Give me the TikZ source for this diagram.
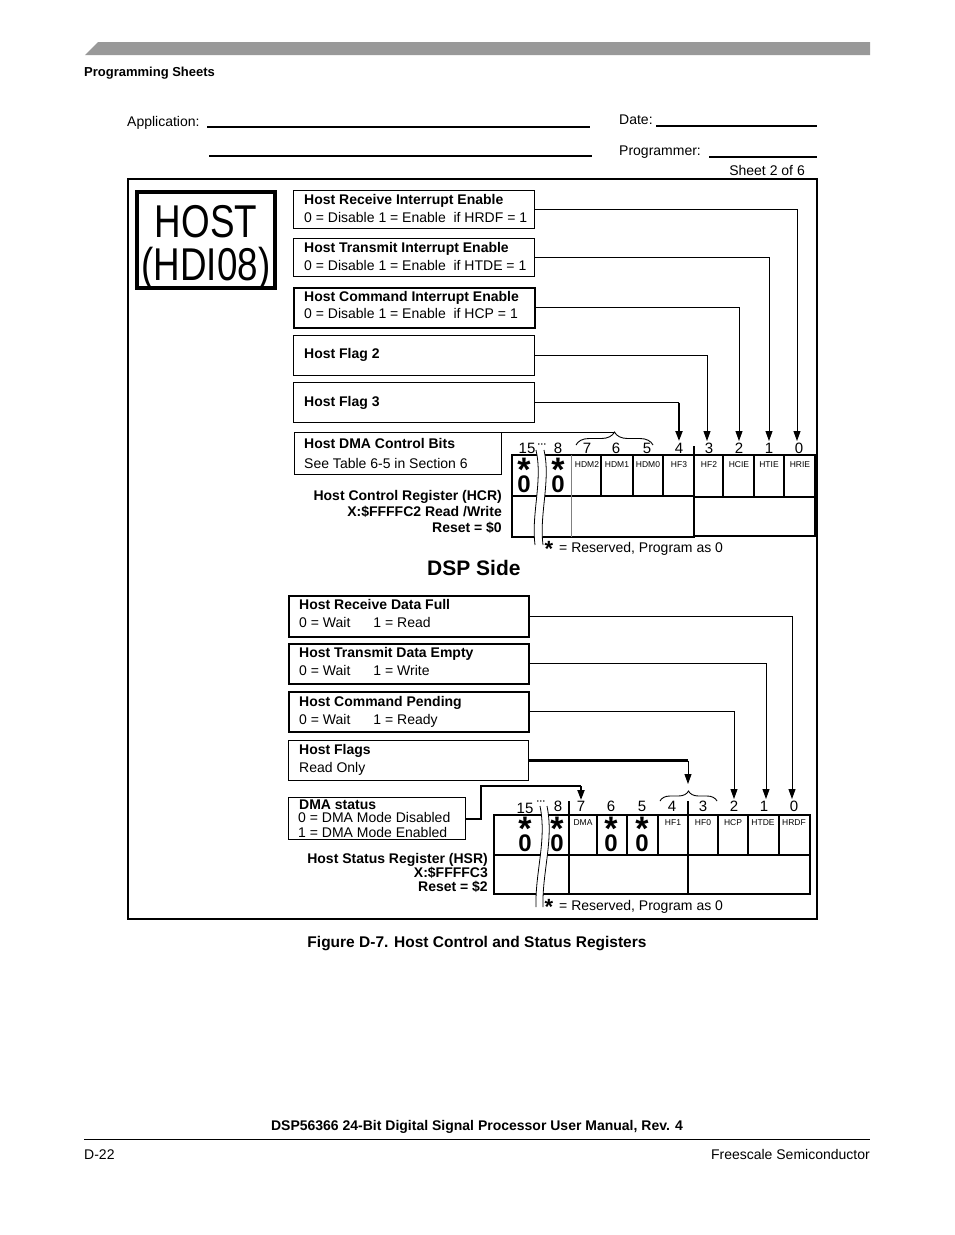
\documentclass[tikz,border=0pt]{standalone}
\usepackage{fontspec}
\setmainfont{Liberation Sans}
\usetikzlibrary{arrows.meta,decorations.pathreplacing}
\newcommand{\fsz}[1]{\fontsize{#1}{#1}\selectfont}
\newcommand{\resv}{\makebox[14pt]{\fsz{24}0}\llap{\makebox[14pt]{\raisebox{11pt}{\fsz{34}*}}}}
\begin{document}
\begin{tikzpicture}[x=1pt,y=-1pt,
  txt/.style={inner sep=0pt, anchor=base west, font=\fsz{14}},
  btxt/.style={inner sep=0pt, anchor=base west, font=\fsz{14}\bfseries},
  rtxt/.style={inner sep=0pt, anchor=base east, font=\fsz{14}\bfseries},
  box/.style={draw, line width=1.1pt, anchor=north west, inner sep=0pt},
  sbox/.style={draw, line width=1.5pt, anchor=north west, inner sep=0pt},
  arr/.style={line width=0.9pt, -{Triangle[length=10pt,width=7pt]}},
  conn/.style={line width=0.9pt},
  reg/.style={line width=1.1pt},
  bitnum/.style={inner sep=0pt, anchor=base, font=\fsz{15}},
  cell/.style={inner sep=0pt, anchor=center, font=\fsz{8.5}},
  rz/.style={inner sep=0pt, anchor=base, font=\bfseries},
  dots/.style={inner sep=0pt, anchor=center, font=\fsz{9}\bfseries},
  brk/.style={line width=0.8pt},
  brc/.style={line width=0.9pt, decorate, decoration={brace, amplitude=13pt, aspect=0.5}}
]
\useasboundingbox (0,0) rectangle (954,1235);
\fill[white] (0,0) rectangle (954,1235);

% ---------- page header ----------
\fill[black!40] (85,55) -- (98,42) -- (870,42) -- (870,55) -- cycle;
\node[inner sep=0pt, anchor=base west, font=\fsz{13}\bfseries] (ps) at (84,76) {Programming Sheets};

\node[txt] (app) at (127,126) {Application:};
\draw[line width=1.5pt] (207,127) -- (590,127);
\draw[line width=1.5pt] (209,156) -- (592,156);
\node[txt] (date) at (619,124) {Date:};
\draw[line width=1.2pt] (656,126) -- (817,126);
\node[txt] (prog) at (619,155) {Programmer:};
\draw[line width=1.2pt] (709,157) -- (817,157);
\node[inner sep=0pt, anchor=base east, font=\fsz{14}] (sheet) at (805,175) {Sheet 2 of 6};

% ---------- frame ----------
\draw[line width=1.5pt] (128,179) rectangle (817,919);

% HOST box
\draw[line width=4pt] (137,192) rectangle (275,288);
\node[inner sep=0pt, anchor=base, font=\fsz{46}] (host1) at (206,237) {\scalebox{0.8}[1]{HOST}};
\node[inner sep=0pt, anchor=base, font=\fsz{46}] (host2) at (206,280) {\scalebox{0.8}[1]{(HDI08)}};

% ---------- HCR description boxes ----------
\node[box, minimum width=241pt, minimum height=38pt] (b1) at (293,190) {};
\node[btxt] (b1t) at (304,204) {Host Receive Interrupt Enable};
\node[txt]  (b1s) at (304,222) {0 = Disable 1 = Enable\ \ if HRDF = 1};

\node[box, minimum width=241pt, minimum height=38pt] (b2) at (293,238) {};
\node[btxt] (b2t) at (304,252) {Host Transmit Interrupt Enable};
\node[txt]  (b2s) at (304,270) {0 = Disable 1 = Enable\ \ if HTDE = 1};

\node[box, line width=1.8pt, minimum width=241pt, minimum height=40pt] (b3) at (293,287) {};
\node[btxt] (b3t) at (304,301) {Host Command Interrupt Enable};
\node[txt]  (b3s) at (304,318) {0 = Disable 1 = Enable\ \ if HCP = 1};

\node[box, minimum width=241pt, minimum height=40pt] (b4) at (293,335) {};
\node[btxt] (b4t) at (304,358) {Host Flag 2};

\node[box, minimum width=241pt, minimum height=40pt] (b5) at (293,382) {};
\node[btxt] (b5t) at (304,406) {Host Flag 3};

\node[box, minimum width=207pt, minimum height=42pt] (b6) at (294,432) {};
\node[btxt] (b6t) at (304,448) {Host DMA Control Bits};
\node[txt]  (b6s) at (304,468) {See Table 6-5 in Section 6};

\node[rtxt] (hcr1) at (502,500) {Host Control Register (HCR)};
\node[rtxt] (hcr2) at (502,516) {X:\$FFFFC2 Read /Write};
\node[rtxt] (hcr3) at (502,532) {Reset = \$0};

% ---------- HCR register ----------
\draw[reg] (512,455) rectangle (694,537);
\draw[reg] (512,496) -- (694,496);
\draw[black!50, line width=0.8pt] (571,455) -- (571,537);
\foreach \x in {601,663} \draw[reg] (\x,455) -- (\x,496);
\draw[line width=1.6pt] (633,455) -- (633,496);
\draw[reg] (694,455) rectangle (815,536);
\draw[line width=1.6pt] (694,497) -- (815,497);
\foreach \x in {723,754,784} \draw[reg] (\x,455) -- (\x,497);
\draw[reg] (694,446) -- (694,455);

% break
\fill[white] (536,450) .. controls (543,480) and (531,515) .. (535,545) -- (543,545) .. controls (539,515) and (551,480) .. (544,450) -- cycle;
\draw[brk] (536,450) .. controls (543,480) and (531,515) .. (535,545);
\draw[brk] (544,450) .. controls (551,480) and (539,515) .. (543,545);

% bit numbers
\node[bitnum] (c15) at (527,453) {15};
\node[dots]   (cd)  at (542,446) {···};
\node[bitnum] (c8)  at (558,453) {8};
\node[bitnum] (c7)  at (587,453) {7};
\node[bitnum] (c6)  at (616,453) {6};
\node[bitnum] (c5)  at (647,453) {5};
\node[bitnum] (c4)  at (679,453) {4};
\node[bitnum] (c3)  at (709,453) {3};
\node[bitnum] (c2)  at (739,453) {2};
\node[bitnum] (c1)  at (769,453) {1};
\node[bitnum] (c0)  at (799,453) {0};

% cell names
\node[cell] (hdm2) at (587,465) {HDM2};
\node[cell] (hdm1) at (617,465) {HDM1};
\node[cell] (hdm0) at (648,465) {HDM0};
\node[cell] (hf3)  at (679,465) {HF3};
\node[cell] (hf2)  at (709,465) {HF2};
\node[cell] (hcie) at (739,465) {HCIE};
\node[cell] (htie) at (769,465) {HTIE};
\node[cell] (hrie) at (800,465) {HRIE};

% reserved marks
\node[rz] (s15) at (524,492) {\resv};
\node[rz] (s8)  at (558,492) {\resv};

\node[inner sep=0pt, anchor=base, font=\fsz{22}\bfseries] (rs1) at (549,556) {*};
\node[txt] (rt1) at (559,552) {= Reserved, Program as 0};

% brace for DMA control bits
\coordinate (brL) at (576,445);
\coordinate (brR) at (653,445);
\coordinate (brT) at (614.5,432);
\draw[brc] (brL) -- (brR);
\draw[conn] (b6.north east) -- (brT);

% arrows to HCR bits
\coordinate (t0) at (797,441);
\coordinate (t1) at (769,441);
\coordinate (t2) at (739,441);
\coordinate (t3) at (707,441);
\coordinate (t4) at (679,441);
\draw[arr] (b1.east) -| (t0);
\draw[arr] (b2.east) -| (t1);
\draw[arr] (b3.east) -| (t2);
\draw[arr] (b4.east) -| (t3);
\draw[conn] (b5.east) -- (b5.east -| t4);
\draw[arr, line width=2pt] (b5.east -| t4) -- (t4);

% ---------- DSP side ----------
\node[inner sep=0pt, anchor=base west, font=\fsz{21}\bfseries] (dsp) at (427,575) {DSP Side};

\node[sbox, minimum width=240pt, minimum height=41pt] (r1) at (288,595) {};
\node[btxt] (r1t) at (299,609) {Host Receive Data Full};
\node[txt]  (r1s) at (299,627) {0 = Wait\hspace{23pt}1 = Read};

\node[sbox, minimum width=240pt, minimum height=40pt] (r2) at (288,643) {};
\node[btxt] (r2t) at (299,657) {Host Transmit Data Empty};
\node[txt]  (r2s) at (299,675) {0 = Wait\hspace{23pt}1 = Write};

\node[sbox, minimum width=240pt, minimum height=40pt] (r3) at (288,691) {};
\node[btxt] (r3t) at (299,706) {Host Command Pending};
\node[txt]  (r3s) at (299,724) {0 = Wait\hspace{23pt}1 = Ready};

\node[box, minimum width=240pt, minimum height=40pt] (r4) at (288,740) {};
\node[btxt] (r4t) at (299,754) {Host Flags};
\node[txt]  (r4s) at (299,772) {Read Only};

\node[box, minimum width=177pt, minimum height=42pt] (r5) at (288,797) {};
\node[btxt] (r5t) at (299,809) {DMA status};
\node[txt]  (r5s) at (298,822) {0 = DMA Mode Disabled};
\node[txt]  (r5u) at (298,837) {1 = DMA Mode Enabled};

\node[rtxt] (hsr1) at (488,863) {Host Status Register (HSR)};
\node[rtxt] (hsr2) at (488,877) {X:\$FFFFC3};
\node[rtxt] (hsr3) at (488,891) {Reset = \$2};

% ---------- HSR register ----------
\draw[reg] (494,815) rectangle (810,894);
\draw[reg] (494,855) -- (810,855);
\foreach \x in {569,688} \draw[reg] (\x,801) -- (\x,894);
\foreach \x in {597,627,658,718,748,779} \draw[reg] (\x,815) -- (\x,855);

\fill[white] (540,806) .. controls (547,840) and (535,872) .. (536,907) -- (543,907) .. controls (542,872) and (554,840) .. (547,806) -- cycle;
\draw[brk] (540,806) .. controls (547,840) and (535,872) .. (536,907);
\draw[brk] (547,806) .. controls (554,840) and (542,872) .. (543,907);

\node[bitnum] (d15) at (525,813) {15};
\node[dots]   (dd)  at (541,803) {···};
\node[bitnum] (d8)  at (558,811) {8};
\node[bitnum] (d7)  at (581,811) {7};
\node[bitnum] (d6)  at (611,811) {6};
\node[bitnum] (d5)  at (642,811) {5};
\node[bitnum] (d4)  at (672,811) {4};
\node[bitnum] (d3)  at (703,811) {3};
\node[bitnum] (d2)  at (734,811) {2};
\node[bitnum] (d1)  at (764,811) {1};
\node[bitnum] (d0)  at (794,811) {0};

\node[cell] (dma)  at (583,823) {DMA};
\node[cell] (hf1)  at (673,823) {HF1};
\node[cell] (hf0)  at (703,823) {HF0};
\node[cell] (hcp)  at (733,823) {HCP};
\node[cell] (htde) at (763,823) {HTDE};
\node[cell] (hrdf) at (794,823) {HRDF};

\node[rz] (u15) at (525,851) {\resv};
\node[rz] (u8)  at (557,851) {\resv};
\node[rz] (u6)  at (611,851) {\resv};
\node[rz] (u5)  at (642,851) {\resv};

\node[inner sep=0pt, anchor=base, font=\fsz{22}\bfseries] (rs2) at (549,914) {*};
\node[txt] (rt2) at (559,910) {= Reserved, Program as 0};

% brace for host flags
\coordinate (fbL) at (660,801);
\coordinate (fbR) at (717,801);
\draw[brc, decoration={brace, amplitude=10pt}] (fbL) -- (fbR);

% arrows to HSR bits
\coordinate (v0) at (792,799);
\coordinate (v1) at (766,799);
\coordinate (v2) at (734,799);
\coordinate (vf) at (688,784);
\coordinate (v7) at (581,800);
\coordinate (dk) at (481,786);
\draw[arr] (r1.east) -| (v0);
\draw[arr] (r2.east) -| (v1);
\draw[arr] (r3.east) -| (v2);
\draw[line width=2.4pt] (r4.east) -- (r4.east -| vf);
\draw[arr] (r4.east -| vf) -- (vf);
\draw[line width=2pt] (r5.east) -| (dk) -- (dk -| v7);
\draw[arr, line width=2pt] (dk -| v7) -- (v7);

% ---------- caption and footer ----------
\node[inner sep=0pt, anchor=base, font=\fsz{15.5}\bfseries] (cap) at (477,947) {Figure D-7. Host Control and Status Registers};
\node[inner sep=0pt, anchor=base, font=\fsz{14}\bfseries] (man) at (477,1130) {DSP56366 24-Bit Digital Signal Processor User Manual, Rev. 4};
\draw[line width=1pt] (84,1139) -- (870,1139);
\node[txt] (pg) at (84,1159) {D-22};
\node[inner sep=0pt, anchor=base east, font=\fsz{14}] (fs) at (870,1159) {Freescale Semiconductor};
\end{tikzpicture}
\end{document}
